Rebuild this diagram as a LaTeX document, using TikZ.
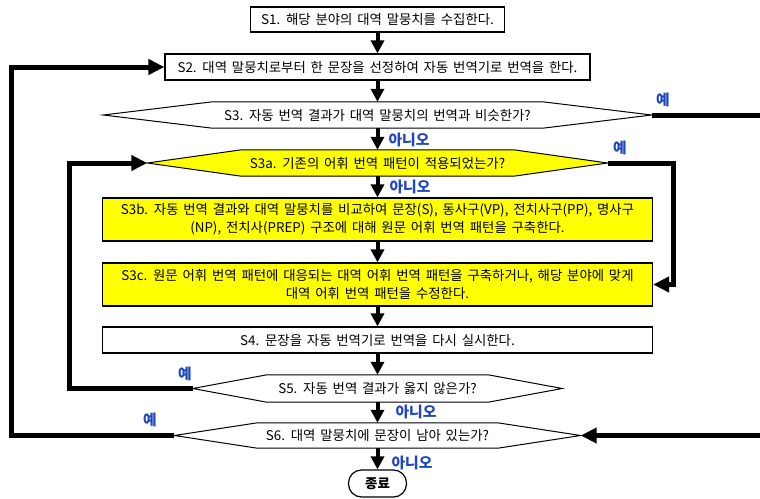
\documentclass[tikz,border=0pt]{standalone}
\usepackage{fontspec}
\setmainfont{Noto Sans CJK KR}[WordSpace=1.6]
\usetikzlibrary{arrows.meta, positioning, calc, backgrounds}
\definecolor{answerblue}{RGB}{30,70,190}
\definecolor{boxyellow}{RGB}{255,255,0}

\begin{document}
\begin{tikzpicture}[x=1pt, y=-1pt,
    stepbox/.style={rectangle, draw, line width=1.2pt, minimum width=550pt, minimum height=26pt, inner sep=2pt, align=center, font=\fontsize{13.4}{18}\selectfont},
    askbox/.style={rectangle, minimum height=26pt, inner sep=0pt, font=\fontsize{13.4}{18}\selectfont},
    endbox/.style={rectangle, draw, line width=1.2pt, rounded corners=13pt, minimum width=58pt, minimum height=27pt, font=\fontsize{13.4}{18}\bfseries\selectfont},
    hexa/.style={draw, line width=1pt},
    arr/.style={-{Triangle[length=13pt, width=13pt]}, line width=4pt},
    backarr/.style={-{Triangle[length=16pt, width=15pt]}, line width=5pt},
    answer/.style={font=\fontsize{14.8}{15}\bfseries\selectfont, text=answerblue, inner sep=0pt}]

  \useasboundingbox (0,0) rectangle (760,498);
  \clip (0,0) rectangle (760,498);

  % steps
  \node[stepbox, minimum width=254pt, minimum height=25pt] (s1) at (377.5,19.5)
    {S1. 해당 분야의 대역 말뭉치를 수집한다.};
  \node[stepbox, minimum width=425pt] (s2) at (377.5,67)
    {S2. 대역 말뭉치로부터 한 문장을 선정하여 자동 번역기로 번역을 한다.};
  \node[askbox, minimum width=330pt] (s3) at (377.5,115)
    {S3. 자동 번역 결과가 대역 말뭉치의 번역과 비슷한가?};
  \node[askbox, minimum width=272pt] (s3a) at (377.5,163)
    {S3a. 기존의 어휘 번역 패턴이 적용되었는가?};
  \node[stepbox, fill=boxyellow, minimum height=43pt] (s3b) at (377.5,219.5)
    {S3b. 자동 번역 결과와 대역 말뭉치를 비교하여 문장(S), 동사구(VP), 전치사구(PP), 명사구\\(NP), 전치사(PREP) 구조에 대해 원문 어휘 번역 패턴을 구축한다.};
  \node[stepbox, fill=boxyellow, minimum height=43pt] (s3c) at (377.5,284.5)
    {S3c. 원문 어휘 번역 패턴에 대응되는 대역 어휘 번역 패턴을 구축하거나, 해당 분야에 맞게\\대역 어휘 번역 패턴을 수정한다.};
  \node[stepbox] (s4) at (377.5,340)
    {S4. 문장을 자동 번역기로 번역을 다시 실시한다.};
  \node[askbox, minimum width=221pt, minimum height=27pt] (s5) at (377.5,388.5)
    {S5. 자동 번역 결과가 옳지 않은가?};
  \node[askbox, minimum width=240pt, minimum height=25pt] (s6) at (377.5,435.5)
    {S6. 대역 말뭉치에 문장이 남아 있는가?};
  \node[endbox] (fin) at (377.5,483.5) {종료};

  % decision outlines
  \begin{pgfonlayer}{background}
    \foreach \n/\d/\c in {s3/109/white, s3a/94/boxyellow, s5/74/white, s6/83/white}
      \draw[hexa, fill=\c] (\n.north west) -- (\n.north east)
        -- ([xshift=\d pt]\n.east) coordinate (\n-r) -- (\n.south east)
        -- (\n.south west) -- ([xshift=-\d pt]\n.west) coordinate (\n-l) -- cycle;
  \end{pgfonlayer}

  % main flow
  \draw[arr] (s1) -- (s2);
  \draw[arr] (s2) -- (s3);
  \draw[arr] (s3) -- (s3a);
  \draw[arr] (s3a) -- (s3b);
  \draw[arr] (s3b) -- (s3c);
  \draw[arr] (s3c) -- (s4);
  \draw[arr] (s4) -- (s5);
  \draw[arr] (s5) -- (s6);
  \draw[arr] (s6) -- (fin);

  % back loops
  \draw[backarr] (s3-r) -- ++(130,0) |- (s6-r);
  \draw[backarr] (s3a-r) -- ++(66,0) |- (s3c.east);
  \draw[backarr] (s5-l) -- ++(-123,0) |- (s3a-l);
  \draw[backarr] (s6-l) -- ++(-163,0) |- (s2.west);

  % answers
  \node[answer] (yes3) at (663,100) {예};
  \node[answer] (no3) at (409,140) {아니오};
  \node[answer] (yes3a) at (620,148) {예};
  \node[answer] (no3a) at (410,187) {아니오};
  \node[answer] (yes5) at (185,374) {예};
  \node[answer] (no5) at (416,412) {아니오};
  \node[answer] (yes6) at (150,420) {예};
  \node[answer] (no6) at (412,463) {아니오};
\end{tikzpicture}
\end{document}
